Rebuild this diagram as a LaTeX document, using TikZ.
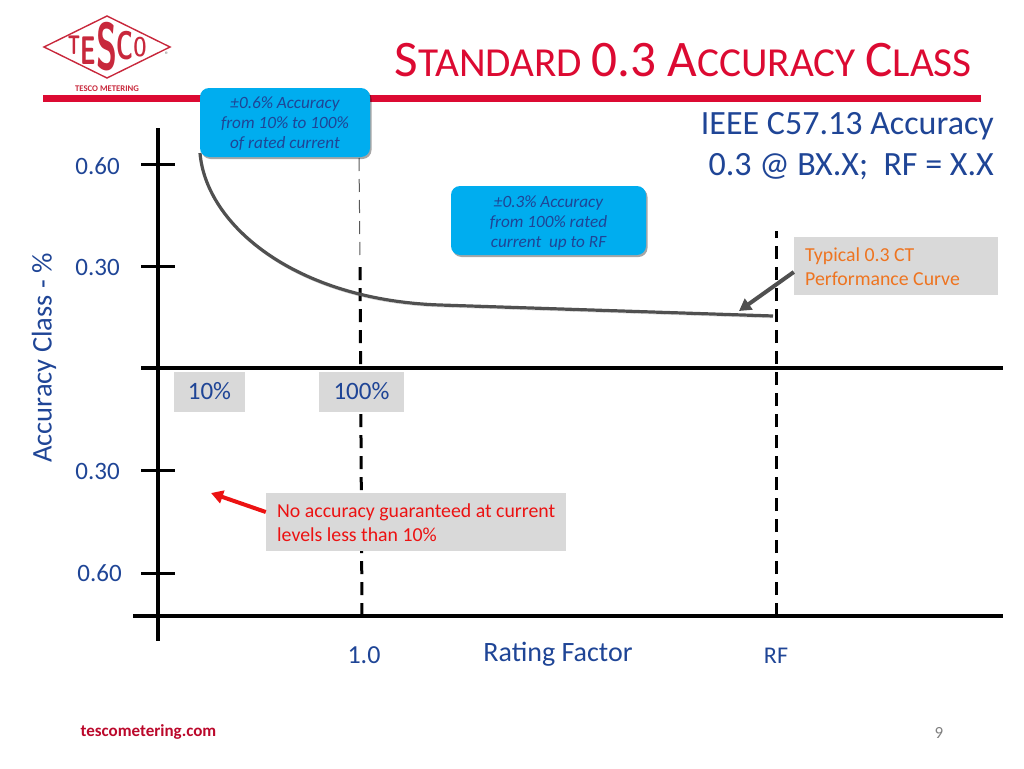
\documentclass[tikz,border=0pt]{standalone}
\usepackage{fontspec}
\setmainfont{Carlito}
\usetikzlibrary{arrows.meta, positioning, calc, shadows}
\definecolor{tescored}{HTML}{DC0A32}
\definecolor{logored}{HTML}{C8283C}
\definecolor{txtblue}{HTML}{1F4596}
\definecolor{noteblue}{HTML}{00ADEF}
\definecolor{notegray}{HTML}{D9D9D9}
\definecolor{curvegray}{HTML}{505050}
\definecolor{noteorange}{HTML}{EE7420}
\definecolor{notered}{HTML}{EC1212}
\newcommand{\fsz}[1]{\fontsize{#1}{#1}\selectfont}
\tikzset{
  axisline/.style={line width=3.5pt},
  tickline/.style={line width=3pt},
  guide/.style={line width=3pt, dash pattern=on 13pt off 8pt},
  thinguide/.style={line width=1pt, black!65, dash pattern=on 13pt off 8pt},
  ticklabel/.style={text=txtblue, font=\fsz{25}, inner sep=0pt},
  bluenote/.style={fill=noteblue, rounded corners=9pt, text=txtblue, font=\fontsize{17.2}{20.3}\selectfont\itshape, align=center,
    inner sep=0pt, drop shadow={shadow xshift=1.5pt, shadow yshift=-2pt, opacity=.35, fill=black}},
  graynote/.style={fill=notegray, inner sep=0pt},
  notetext/.style={font=\fontsize{19.8}{24}\selectfont, align=left, anchor=north west, inner sep=0pt},
  logoletter/.style={text=logored, inner sep=0pt}
}
\begin{document}
\begin{tikzpicture}[x=1pt, y=-1pt]
  \useasboundingbox (0,0) rectangle (1024,768);
  % logo
  \coordinate (logo_l) at (44,47);
  \coordinate (logo_t) at (107,16);
  \coordinate (logo_r) at (170,47);
  \coordinate (logo_b) at (107,78);
  \draw[logored, line width=1.4pt, line join=miter] (logo_l) -- (logo_t) -- (logo_r) -- (logo_b) -- cycle;
  \node[logoletter, font=\fsz{27}\bfseries\sffamily, xscale=.62] (logo_T) at (74,45) {T};
  \node[logoletter, font=\fsz{40}\bfseries\sffamily, xscale=.6] (logo_E) at (88,51) {E};
  \node[logoletter, font=\fsz{66}\bfseries\sffamily, xscale=.52] (logo_S) at (107,47) {S};
  \node[logoletter, font=\fsz{40}\bfseries\sffamily, xscale=.6] (logo_C) at (125,46) {C};
  \node[logoletter, font=\fsz{27}\bfseries\sffamily, xscale=.62] (logo_O) at (140,47) {O};
  \node[text=black!55, font=\fsz{8}, inner sep=0pt] (logo_reg) at (167,55) {®};
  \node[text=logored, font=\fsz{8.7}\bfseries, inner sep=0pt] (logo_name) at (107,88.5) {TESCO METERING};
  % title
  \node[text=tescored, inner sep=0pt, anchor=base east] (title) at (972,76)
    {\fsz{51.25}S\fsz{41.25}TANDARD \fsz{51.25}0.3 A\fsz{41.25}CCURACY \fsz{51.25}C\fsz{41.25}LASS};
  \fill[tescored] (43,95) rectangle (981,102);
  % axes
  \coordinate (v_top) at (158,128);
  \coordinate (v_bot) at (158,641);
  \coordinate (h_top_l) at (141,368);
  \coordinate (h_top_r) at (1003,368);
  \coordinate (h_bot_l) at (133,616);
  \coordinate (h_bot_r) at (1003,616);
  \draw[axisline] (v_top) -- (v_bot);
  \draw[axisline] (h_top_l) -- (h_top_r);
  \draw[axisline] (h_bot_l) -- (h_bot_r);
  \foreach \ypos/\name in {164/a, 266/b, 470/c, 573/d}
    \draw[tickline] (141,\ypos) coordinate (tick_\name) -- (175,\ypos);
  \node[ticklabel, left=21pt of tick_a, yshift=-2pt] (lab_a) {0.60};
  \node[ticklabel, left=21pt of tick_b, yshift=-1pt] (lab_b) {0.30};
  \node[ticklabel, left=21pt of tick_c, yshift=-1pt] (lab_c) {0.30};
  \node[ticklabel, left=19pt of tick_d] (lab_d) {0.60};
  \node[text=txtblue, font=\fsz{28.5}, rotate=90, inner sep=0pt] (ylab) at (44,358) {Accuracy Class - \%};
  % guides
  \coordinate (g1_a) at (359,158);
  \coordinate (g1_b) at (360,262);
  \coordinate (g1_d) at (362,616);
  \coordinate (g2_a) at (776,231);
  \coordinate (g2_b) at (776,616);
  \draw[thinguide] (g1_a) -- (g1_b);
  \draw[guide] (g1_d) -- (g1_b);
  \draw[guide] (g2_b) -- (g2_a);
  % curve
  \coordinate (c_start) at (200,153);
  \coordinate (c_mid) at (440,305);
  \coordinate (c_end) at (773,316);
  \draw[curvegray, line width=3.2pt, drop shadow={shadow xshift=0pt, shadow yshift=-2pt, opacity=.2, fill=none, draw=black}]
    (c_start) .. controls (206,225) and (295,300) .. (c_mid) -- (c_end);
  % blue notes
  \node[bluenote, minimum width=170pt, minimum height=69pt] (note_low) at (285,122.5)
    {\rule{0pt}{14pt}±0.6\% Accuracy\\from 10\% to 100\%\\of rated current};
  \node[bluenote, minimum width=195pt, minimum height=69pt] (note_high) at (548.5,220.5)
    {\rule{0pt}{17pt}±0.3\% Accuracy\\from 100\% rated\\current\ \ up to RF};
  % gray notes
  \node[graynote, minimum width=204pt, minimum height=58pt] (note_curve) at (896,266) {};
  \node[notetext, text=noteorange] (note_curve_txt) at (805,248)
    {Typical 0.3 CT\\Performance Curve};
  \node[graynote, minimum width=71pt, minimum height=40pt, text=txtblue, font=\fsz{25}] (box_ten) at (209.5,391.5) {\raisebox{-1pt}{10\%}};
  \node[graynote, minimum width=85pt, minimum height=40pt, text=txtblue, font=\fsz{25}] (box_hundred) at (361.5,391.5) {\raisebox{-1pt}{100\%}};
  \node[graynote, minimum width=300pt, minimum height=58pt] (note_none) at (416,522) {};
  \node[notetext, text=notered] (note_none_txt) at (277,503.5)
    {No accuracy guaranteed at current\\levels less than 10\%};
  % arrows
  \coordinate (arr_curve) at (739,311);
  \coordinate (arr_none) at (211,493);
  \draw[-{Triangle[length=12pt, width=13pt]}, curvegray, line width=4pt] (note_curve.west |- 0,272) -- (arr_curve);
  \draw[-{Triangle[length=12pt, width=13pt]}, notered, line width=4pt] (note_none.west |- 0,512) -- (arr_none);
  % axis texts
  \node[text=txtblue, font=\fsz{26}, inner sep=0pt] (lab_one) at (364,655) {1.0};
  \node[text=txtblue, font=\fsz{28}, inner sep=0pt] (lab_rating) at (558,654) {Rating Factor};
  \node[text=txtblue, font=\fsz{24}, inner sep=0pt] (lab_rf) at (776,656) {RF};
  \node[text=txtblue, font=\fsz{34}, anchor=east, inner sep=0pt] (std_a) at (994,126) {IEEE C57.13 Accuracy};
  \node[text=txtblue, font=\fsz{34}, anchor=east, inner sep=0pt] (std_b) at (994,167) {0.3 @ BX.X;\ \ RF = X.X};
  % footer
  \node[text=tescored!85!black, font=\fsz{17}\bfseries, inner sep=0pt] (site) at (148.5,732) {tescometering.com};
  \node[text=black!50, font=\fsz{17}, inner sep=0pt] (page_no) at (939,733) {9};
\end{tikzpicture}
\end{document}
